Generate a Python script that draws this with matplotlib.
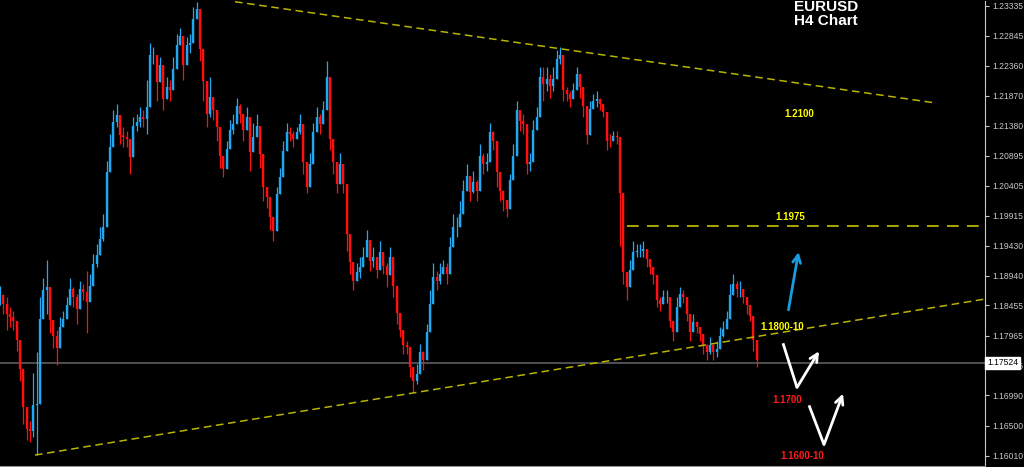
import numpy as np
import matplotlib.pyplot as plt

# EURUSD H4 bars, high / low
bar_high = [
    1.1878, 1.1865, 1.1859, 1.1843, 1.1837, 1.1805, 1.1761, 1.1707, 1.1664, 1.1658,
    1.1735, 1.1769, 1.1859, 1.1891, 1.1919, 1.1843, 1.1816, 1.1805, 1.1826, 1.1837,
    1.1859, 1.1891, 1.1875, 1.1865, 1.1886, 1.1881, 1.1902, 1.1897, 1.1930, 1.1946,
    1.1973, 1.1995, 1.2081, 1.2125, 1.2163, 1.2174, 1.2136, 1.2136, 1.2130, 1.2114,
    1.2152, 1.2158, 1.2168, 1.2163, 1.2212, 1.2272, 1.2266, 1.2239, 1.2250, 1.2201,
    1.2217, 1.2212, 1.2250, 1.2288, 1.2298, 1.2261, 1.2282, 1.2288, 1.2331, 1.2340,
    1.2282, 1.2244, 1.2179, 1.2217, 1.2179, 1.2158, 1.2109, 1.2081, 1.2114, 1.2147,
    1.2158, 1.2184, 1.2174, 1.2147, 1.2168, 1.2125, 1.2142, 1.2158, 1.2114, 1.2060,
    1.2038, 1.2011, 1.1984, 1.2038, 1.2070, 1.2114, 1.2142, 1.2136, 1.2130, 1.2136,
    1.2158, 1.2098, 1.2049, 1.2093, 1.2142, 1.2168, 1.2158, 1.2179, 1.2244, 1.2136,
    1.2098, 1.2060, 1.2093, 1.2060, 1.1989, 1.1935, 1.1902, 1.1914, 1.1924, 1.1940,
    1.1968, 1.1935, 1.1940, 1.1914, 1.1951, 1.1924, 1.1914, 1.1940, 1.1897, 1.1849,
    1.1816, 1.1794, 1.1788, 1.1761, 1.1740, 1.1751, 1.1783, 1.1772, 1.1816, 1.1870,
    1.1914, 1.1902, 1.1914, 1.1919, 1.1914, 1.1957, 1.1995, 1.1989, 1.2016, 1.2049,
    1.2076, 1.2044, 1.2065, 1.2049, 1.2109, 1.2093, 1.2093, 1.2142, 1.2130, 1.2087,
    1.2049, 1.2033, 1.2016, 1.2060, 1.2109, 1.2179, 1.2163, 1.2158, 1.2093, 1.2093,
    1.2147, 1.2168, 1.2233, 1.2233, 1.2233, 1.2223, 1.2233, 1.2261, 1.2266, 1.2212,
    1.2201, 1.2195, 1.2207, 1.2233, 1.2217, 1.2190, 1.2136, 1.2179, 1.2190, 1.2195,
    1.2184, 1.2168, 1.2130, 1.2125, 1.2130, 1.2130, 1.2114, 1.1919, 1.1897, 1.1919,
    1.1951, 1.1946, 1.1946, 1.1951, 1.1935, 1.1919, 1.1908, 1.1865, 1.1859, 1.1870,
    1.1870, 1.1832, 1.1816, 1.1859, 1.1875, 1.1870, 1.1843, 1.1816, 1.1832, 1.1821,
    1.1810, 1.1794, 1.1783, 1.1794, 1.1783, 1.1788, 1.1810, 1.1821, 1.1837, 1.1881,
    1.1897, 1.1886, 1.1886, 1.1870, 1.1859, 1.1837, 1.1805, 1.1767,
]
bar_low = [
    1.1846, 1.1832, 1.1805, 1.1810, 1.1805, 1.1772, 1.1723, 1.1653, 1.1626, 1.1623,
    1.1631, 1.1602, 1.1788, 1.1849, 1.1832, 1.1800, 1.1777, 1.1748, 1.1794, 1.1810,
    1.1832, 1.1854, 1.1843, 1.1816, 1.1859, 1.1854, 1.1800, 1.1859, 1.1897, 1.1908,
    1.1935, 1.1951, 1.2044, 1.2081, 1.2125, 1.2136, 1.2109, 1.2103, 1.2103, 1.2060,
    1.2125, 1.2130, 1.2136, 1.2136, 1.2125, 1.2233, 1.2239, 1.2179, 1.2223, 1.2163,
    1.2184, 1.2179, 1.2212, 1.2250, 1.2272, 1.2212, 1.2256, 1.2256, 1.2293, 1.2315,
    1.2244, 1.2179, 1.2136, 1.2152, 1.2147, 1.2114, 1.2070, 1.2054, 1.2087, 1.2114,
    1.2125, 1.2158, 1.2142, 1.2114, 1.2136, 1.2065, 1.2098, 1.2119, 1.2070, 1.2016,
    1.2005, 1.1968, 1.1951, 1.2016, 1.2038, 1.2081, 1.2114, 1.2114, 1.2103, 1.2119,
    1.2125, 1.2060, 1.2028, 1.2060, 1.2114, 1.2136, 1.2125, 1.2147, 1.2190, 1.2098,
    1.2060, 1.2028, 1.2060, 1.2028, 1.1935, 1.1897, 1.1870, 1.1886, 1.1891, 1.1908,
    1.1935, 1.1902, 1.1908, 1.1891, 1.1914, 1.1897, 1.1875, 1.1908, 1.1859, 1.1816,
    1.1794, 1.1767, 1.1767, 1.1729, 1.1704, 1.1718, 1.1756, 1.1740, 1.1788, 1.1826,
    1.1870, 1.1870, 1.1881, 1.1897, 1.1881, 1.1924, 1.1951, 1.1957, 1.1973, 1.2016,
    1.2038, 1.2016, 1.2028, 1.2016, 1.2070, 1.2060, 1.2065, 1.2114, 1.2098, 1.2038,
    1.2016, 1.2000, 1.1989, 1.2038, 1.2070, 1.2147, 1.2130, 1.2125, 1.2060, 1.2065,
    1.2114, 1.2136, 1.2201, 1.2179, 1.2195, 1.2184, 1.2195, 1.2233, 1.2239, 1.2179,
    1.2179, 1.2168, 1.2184, 1.2212, 1.2184, 1.2152, 1.2109, 1.2152, 1.2168, 1.2168,
    1.2163, 1.2152, 1.2098, 1.2103, 1.2114, 1.2109, 1.1943, 1.1881, 1.1854, 1.1886,
    1.1914, 1.1924, 1.1924, 1.1924, 1.1908, 1.1897, 1.1881, 1.1843, 1.1837, 1.1849,
    1.1849, 1.1810, 1.1788, 1.1826, 1.1854, 1.1849, 1.1821, 1.1788, 1.1805, 1.1800,
    1.1788, 1.1767, 1.1756, 1.1767, 1.1756, 1.1761, 1.1783, 1.1794, 1.1810, 1.1843,
    1.1865, 1.1859, 1.1859, 1.1849, 1.1832, 1.1821, 1.1772, 1.1745,
]
last_price = 1.17524
price_ticks = [1.23335, 1.22845, 1.22360, 1.21870, 1.21380, 1.20895, 1.20405, 1.19915,
               1.19430, 1.18940, 1.18455, 1.17965, 1.17475, 1.16990, 1.16500, 1.16010]

# drawn objects (bar index, price)
upper_trend_x = [70.5, 279.6]
upper_trend_y = [1.2340, 1.2176]
lower_trend_x = [10.5, 295.5]
lower_trend_y = [1.1602, 1.1856]
level_x = [188.1, 295.5]
level_y = [1.1975, 1.1975]

labels = [
    ('1.2100', 239.7, 1.2158, '#ffff00'),
    ('1.1975', 237.0, 1.1989, '#ffff00'),
    ('1.1800-10', 234.6, 1.1811, '#ffff00'),
    ('1.1700', 236.1, 1.1691, '#ff1a1a'),
    ('1.1600-10', 240.6, 1.1600, '#ff1a1a'),
]
blue_arrow = [(236.4, 1.1834), (239.7, 1.1937)]
white_path1 = [(234.9, 1.1784), (239.1, 1.1712), (245.7, 1.1771)]
white_path2 = [(242.7, 1.1683), (247.2, 1.1619), (252.9, 1.1702)]

W, H = 1024, 467
fig = plt.figure(figsize=(W / 100, H / 100), dpi=100, facecolor='black')
ax = fig.add_axes([0, 1.5 / H, 985 / W, 465 / H], facecolor='black')

idx = np.arange(len(bar_high))
hi = np.array(bar_high)
lo = np.array(bar_low)
close = (hi + lo) / 2
open_ = np.r_[close[0], close[:-1]]
up = close >= open_
cols = np.where(up, '#22a8f0', '#ff1010')
body_lo = np.minimum(open_, close)
body_hi = np.maximum(open_, close)
# wicks then bodies
ax.vlines(idx, np.minimum(lo, body_lo), np.maximum(hi, body_hi), colors=cols, linewidth=0.9)
ax.vlines(idx, body_lo, body_hi, colors=cols, linewidth=1.7)

ax.axhline(last_price, color='#505050', lw=1.4, zorder=0)

ax.plot(upper_trend_x, upper_trend_y, color='#b8b400', lw=1.1, ls=(0, (5, 3)))
ax.plot(lower_trend_x, lower_trend_y, color='#b8b400', lw=1.1, ls=(0, (5, 3)))
ax.plot(level_x, level_y, color='#c8c400', lw=1.2, ls=(0, (7, 5)))

for txt, x, y, c in labels:
    ax.text(x, y, txt, color=c, fontsize=7, fontweight='bold', ha='center', va='center',
            family='Liberation Sans')

ax.text(247.8, 1.2331, 'EURUSD', color='white', fontsize=11, fontweight='bold',
        ha='center', va='center', family='Liberation Sans')
ax.text(247.8, 1.2308, 'H4 Chart', color='white', fontsize=11, fontweight='bold',
        ha='center', va='center', family='Liberation Sans')

ax.annotate('', xy=blue_arrow[1], xytext=blue_arrow[0],
            arrowprops=dict(arrowstyle='->', color='#1a9be0', lw=2, mutation_scale=14))
for path in (white_path1, white_path2):
    ax.plot([path[0][0], path[1][0]], [path[0][1], path[1][1]], color='white', lw=2,
            solid_capstyle='butt')
    ax.annotate('', xy=path[2], xytext=path[1],
                arrowprops=dict(arrowstyle='->', color='white', lw=2, mutation_scale=14,
                                shrinkA=0, shrinkB=0))

ax.set_xlim(0, 295.5)
ax.set_ylim(1.1585, 1.2342)
ax.set_xticks([])
ax.yaxis.tick_right()
ax.set_yticks(price_ticks)
ax.set_yticklabels([f'{v:.5f}' for v in price_ticks], family='Liberation Sans')
ax.tick_params(axis='y', colors='#c8c8c8', labelsize=6.2, length=3, pad=2)
for s in ('top', 'left'):
    ax.spines[s].set_visible(False)
ax.spines['right'].set_color('#c8c8c8')
ax.spines['bottom'].set_color('#909090')

ax.text(1.002, last_price, f'{last_price:.5f}', transform=ax.get_yaxis_transform(),
        color='black', fontsize=6.2, va='center', ha='left', family='Liberation Sans',
        bbox=dict(facecolor='white', edgecolor='white', pad=1.2), clip_on=False, zorder=5)

fig.savefig('out.png', dpi=100, facecolor='black')
